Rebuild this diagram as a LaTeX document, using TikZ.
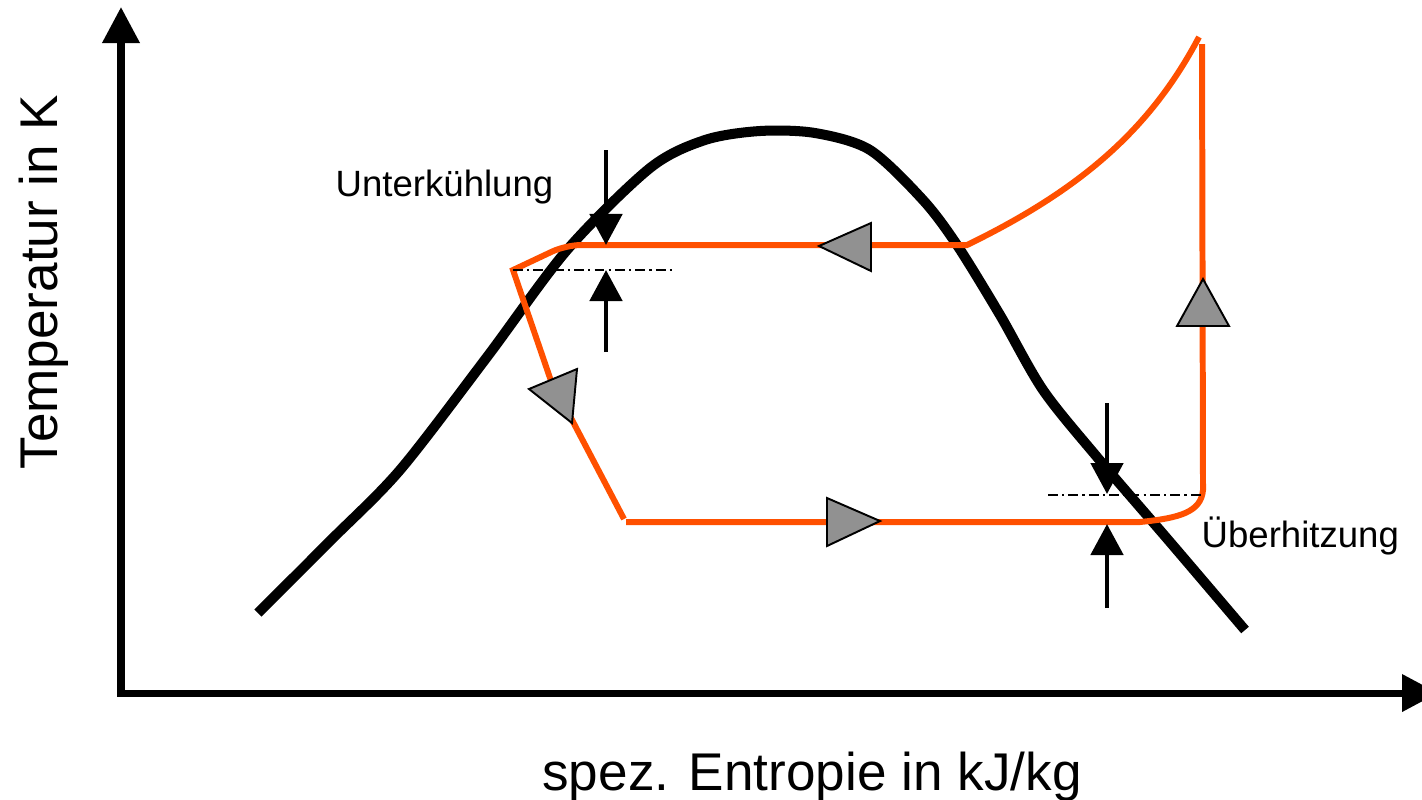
\documentclass[tikz,border=0pt]{standalone}
\usepackage{fontspec}
\setmainfont{Liberation Sans}
\usetikzlibrary{arrows.meta}
\definecolor{cyc}{RGB}{255,80,0}
\definecolor{trigray}{RGB}{145,145,145}
\begin{document}
\begin{tikzpicture}[x=0.01cm,y=-0.01cm,
  axisline/.style={line width=2pt,line join=miter},
  dome/.style={line width=2.85pt},
  cyclepath/.style={cyc,line width=1.7pt},
  flowtri/.style={fill=trigray,draw=black,line width=0.55pt,line join=miter},
  marker/.style={line width=1.4pt,-{Triangle[length=0.31cm,width=0.32cm]}},
  refline/.style={line width=0.45pt,dash pattern=on 2.8pt off 1.2pt on 0.6pt off 1.2pt},
  lbl/.style={font=\fontsize{10.4}{12}\selectfont,inner sep=0pt},
  biglbl/.style={font=\fontsize{15.1}{18}\selectfont,inner sep=0pt}]
\useasboundingbox (0,0) rectangle (1422,799);

% axes
\coordinate (ytip) at (121,7);
\coordinate (origin) at (121,693);
\coordinate (xtip) at (1438,693);
\draw[axisline,{Triangle[length=0.36cm,width=0.36cm]}-{Triangle[length=0.36cm,width=0.36cm]}]
  (ytip) -- (origin) -- (xtip);

% saturation dome
\draw[dome] plot[smooth,tension=0.5] coordinates {
  (258,613) (330,541) (400,470) (487,357) (567,250) (650,168) (705,140)
  (760,131) (815,133) (870,150) (923,200) (957,245) (1000,315) (1043,390)
  (1097,457) (1170,542) (1245,630)};

% cycle
\coordinate (c1) at (513,270);
\coordinate (c2) at (566,245);
\coordinate (c3) at (967,245);
\coordinate (c4) at (1199,37);
\coordinate (c5) at (1202,44);
\coordinate (c6) at (1203,490);
\coordinate (c7) at (1140,522);
\coordinate (c8) at (626,522);
\coordinate (c9) at (624,519);
\coordinate (c10) at (550,378);
\draw[cyclepath] (c9) -- (c10) -- (c1) [rounded corners=0.15cm] -- (c2) [sharp corners] -- (c3)
  .. controls (1080,190) and (1150,130) .. (c4);
\draw[cyclepath] (c5) -- (c6) .. controls (1201,512) and (1180,518) .. (c7) -- (c8);

% flow direction triangles
\draw[flowtri] (819,246) -- (871,223) -- (871,271) -- cycle;
\draw[flowtri] (880,521) -- (827,498) -- (827,546) -- cycle;
\draw[flowtri] (1203,279) -- (1229,326) -- (1177,326) -- cycle;
\draw[flowtri] (529,389) -- (577,369) -- (572,423) -- cycle;

% reference lines
\draw[refline] (c1) -- (673,270);
\draw[refline] (1048,495) -- (c6|-0,495);

% subcooling / superheat markers
\coordinate (u1) at (606,150); \coordinate (u2) at (606,245);
\coordinate (u3) at (606,352); \coordinate (u4) at (606,270);
\coordinate (h1) at (1107,403); \coordinate (h2) at (1107,494);
\coordinate (h3) at (1107,608); \coordinate (h4) at (1107,524);
\draw[marker] (u1) -- (u2);
\draw[marker] (u3) -- (u4);
\draw[marker] (h1) -- (h2);
\draw[marker] (h3) -- (h4);

% labels
\node[lbl,anchor=base west] (unterk) at (335,196) {Unterkühlung};
\node[lbl,anchor=base west] (ueberh) at (1201,547) {Überhitzung};
\node[biglbl,anchor=base] (xlab) at (812,790) {spez. Entropie in kJ/kg};
\node[biglbl,anchor=base,rotate=90] (ylab) at (57,282) {Temperatur in K};
\end{tikzpicture}
\end{document}
